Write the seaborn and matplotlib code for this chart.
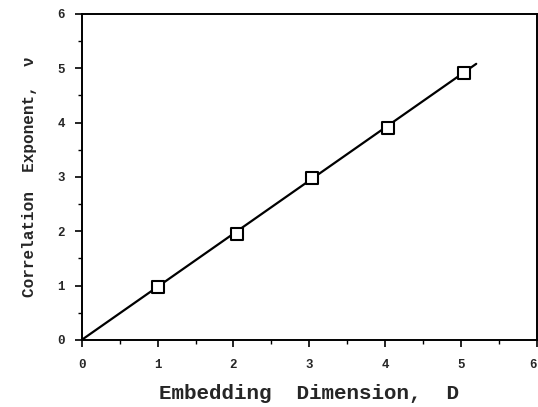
import pandas as pd
import matplotlib.pyplot as plt
import seaborn as sns

# Data
embed_dim = [1.0, 2.04, 3.03, 4.04, 5.04]
corr_exp = [0.97, 1.95, 2.98, 3.89, 4.92]
fit_x = [0.0, 5.2]
fit_y = [0.0, 5.08]

points = pd.DataFrame({'D': embed_dim, 'nu': corr_exp})
fit = pd.DataFrame({'D': fit_x, 'nu': fit_y})

sns.set_style('ticks')
plt.rcParams['font.family'] = ['Liberation Mono', 'DejaVu Sans Mono']

fig = plt.figure(figsize=(5.38, 4.07), dpi=100)
ax = fig.add_axes([0.152, 0.165, 0.846, 0.801])

sns.lineplot(data=fit, x='D', y='nu', color='black', linewidth=1.6, ax=ax)
sns.scatterplot(data=points, x='D', y='nu', marker='s', s=70, color='white',
                edgecolor='black', linewidth=1.5, zorder=3, ax=ax)

ax.set_xlim(0, 6)
ax.set_ylim(0, 6)
ax.set_xticks(range(7))
ax.set_yticks(range(7))
ax.set_xticks([x + 0.5 for x in range(6)], minor=True)
ax.set_yticks([y + 0.5 for y in range(6)], minor=True)
ax.tick_params(which='major', direction='out', length=5, width=1.2, labelsize=9, color='black')
ax.tick_params(which='minor', direction='out', length=3, width=1.0, color='black')
for lab in ax.get_xticklabels() + ax.get_yticklabels():
    lab.set_fontweight('bold')
# keep the last x label inside the figure
ax.get_xticklabels()[-1].set_horizontalalignment('right')
ax.tick_params(axis='x', pad=9)
ax.tick_params(axis='y', pad=7)
for sp in ax.spines.values():
    sp.set_linewidth(1.4)
    sp.set_color('black')

ax.set_xlabel('Embedding  Dimension,  D', fontsize=15, fontweight='bold', labelpad=9)
ax.set_ylabel('Correlation  Exponent,  \u03bd', fontsize=11.5, fontweight='bold', labelpad=10)
ax.yaxis.set_label_coords(-0.098, 0.5)

fig.savefig('out.png', dpi=100)
